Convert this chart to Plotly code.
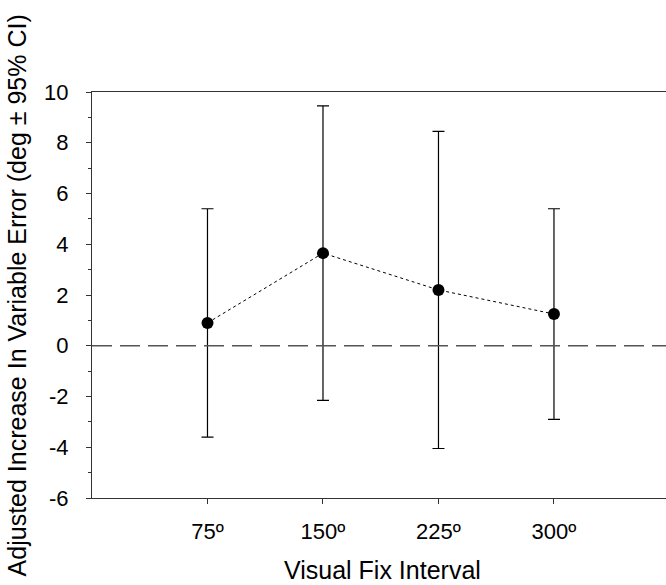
import plotly.graph_objects as go

intervals = ["75º", "150º", "225º", "300º"]
positions = [1, 2, 3, 4]
means = [0.9, 3.65, 2.2, 1.25]
ci_half = [4.5, 5.8, 6.25, 4.15]
y_ticks = [-6, -4, -2, 0, 2, 4, 6, 8, 10]
y_tick_labels = ["-6", "-4", "-2", "0", "2", "4", "6", "8", "10"]

fig = go.Figure()
fig.add_trace(go.Scatter(
    x=positions, y=means, mode="lines+markers",
    line=dict(color="black", width=1, dash="dot"),
    marker=dict(color="black", size=12),
    error_y=dict(type="data", array=ci_half, visible=True, color="black", thickness=1.2, width=6),
    showlegend=False,
))

fig.add_shape(type="line", xref="paper", yref="y", x0=0, x1=1, y0=0, y1=0,
              line=dict(color="#555555", width=1.3, dash="20px,8px"))

font = "Liberation Sans, Arial, sans-serif"
fig.update_layout(
    width=666, height=585,
    margin=dict(l=92, r=0, t=92, b=87),
    plot_bgcolor="white", paper_bgcolor="white",
    font=dict(family=font, size=22, color="black"),
    xaxis=dict(range=[0, 4.97], tickvals=positions, ticktext=intervals,
               showgrid=False, zeroline=False, showline=True, mirror=True,
               linecolor="#333333", linewidth=1, ticks="outside", ticklen=5,
               tickcolor="#333333", tickfont=dict(size=22), ticklabelstandoff=9),
    yaxis=dict(range=[-6, 10], tickvals=y_ticks, ticktext=y_tick_labels,
               showgrid=False, zeroline=False, showline=True, mirror=False,
               linecolor="#333333", linewidth=1, ticks="outside", ticklen=5,
               tickcolor="#333333", tickfont=dict(size=22), ticklabelstandoff=13,
               minor=dict(ticks="outside", ticklen=3, dtick=1, tickcolor="#333333", showgrid=False)),
    annotations=[
        dict(text="Visual Fix Interval", xref="paper", yref="paper", x=0.506, y=-0.177,
             xanchor="center", yanchor="middle", showarrow=False, font=dict(size=25)),
        dict(text="Adjusted Increase In Variable Error (deg ± 95% CI)", xref="paper", yref="paper",
             x=-0.130, y=0.5, xanchor="center", yanchor="middle", textangle=-90,
             showarrow=False, font=dict(size=25)),
    ],
)

fig.write_html("out.html")
